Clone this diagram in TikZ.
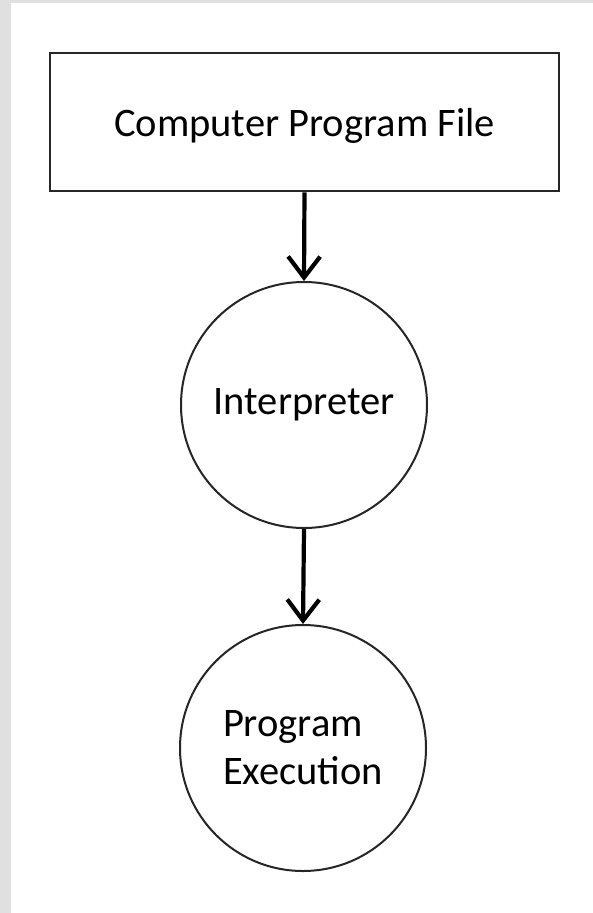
\documentclass[tikz,border=0pt]{standalone}
\usepackage{fontspec}
\setmainfont{Carlito}
\usetikzlibrary{arrows.meta}
\begin{document}
\begin{tikzpicture}[x=1pt,y=-1pt,
  box/.style={draw=black!85,line width=2.6pt,minimum width=509pt,minimum height=138pt,inner sep=0pt,text depth=0pt},
  bubble/.style={draw=black!85,line width=2pt,circle,minimum size=246pt,inner sep=0pt,align=left,font=\fontsize{40.5}{48}\selectfont},
  flow/.style={line width=4.2pt,-{Straight Barb[length=21pt,width=32pt,line width=4.2pt]}}]
\fill[black!12] (0,0) rectangle (593,913);
\fill[white] (11,3) rectangle (593,913);
\useasboundingbox (0,0) rectangle (593,913);
\node[box,font=\fontsize{40.5}{48}\selectfont] (file) at (304.5,122) {Computer Program File};
\node[bubble] (interp) at (304,405) {Interpreter};
\node[bubble] (exec) at (303,748) {Program\\Execution};
\draw[flow] (file.south) -- (interp.north);
\draw[flow] (interp.south) -- (exec.north);
\end{tikzpicture}
\end{document}
